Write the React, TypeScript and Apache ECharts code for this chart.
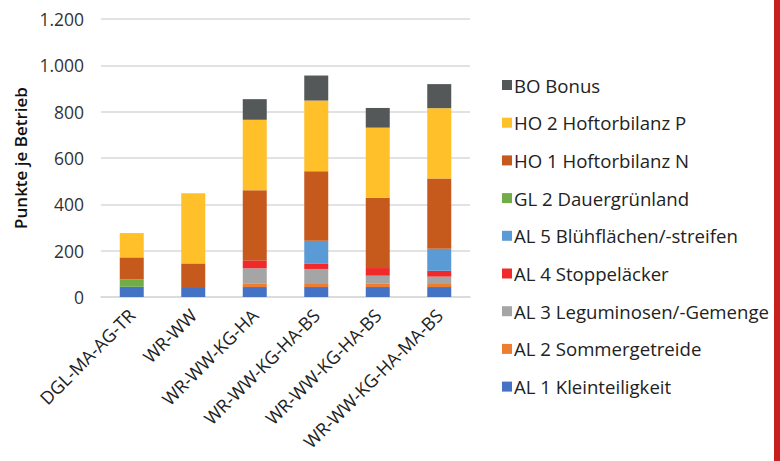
import React, { useEffect, useRef } from "react";
import * as echarts from "echarts";

const categories = [
  "DGL-MA-AG-TR",
  "WR-WW",
  "WR-WW-KG-HA",
  "WR-WW-KG-HA-BS",
  "WR-WW-KG-HA-BS",
  "WR-WW-KG-HA-MA-BS",
];

const seriesNames = [
  "AL 1 Kleinteiligkeit",
  "AL 2 Sommergetreide",
  "AL 3 Leguminosen/-Gemenge",
  "AL 4 Stoppeläcker",
  "AL 5 Blühflächen/-streifen",
  "GL 2 Dauergrünland",
  "HO 1 Hoftorbilanz N",
  "HO 2 Hoftorbilanz P",
  "BO Bonus",
];

const al1 = [44, 43, 43, 43, 43, 43];
const al2 = [0, 0, 16, 13, 16, 13];
const al3 = [0, 0, 65, 65, 33, 32];
const al4 = [0, 0, 34, 24, 33, 25];
const al5 = [0, 0, 0, 98, 0, 95];
const gl2 = [32, 0, 0, 0, 0, 0];
const ho1 = [95, 102, 303, 300, 303, 304];
const ho2 = [105, 303, 304, 305, 303, 303];
const bo = [0, 0, 89, 108, 85, 104];

const seriesValues = [al1, al2, al3, al4, al5, gl2, ho1, ho2, bo];
const colors = [
  "#4472C4",
  "#ED7D31",
  "#A5A5A5",
  "#F02A2A",
  "#5B9BD5",
  "#70AD47",
  "#C55A1C",
  "#FFC02A",
  "#555859",
];

const yTicks = [0, 200, 400, 600, 800, 1000, 1200];
const FONT = "'Open Sans', Lato, sans-serif";

export default function App() {
  const ref = useRef<HTMLDivElement>(null);
  useEffect(() => {
    if (!ref.current) return;
    const chart = echarts.init(ref.current, undefined, { renderer: "svg" });
    chart.setOption({
      animation: false,
      backgroundColor: "#ffffff",
      textStyle: { fontFamily: FONT },
      grid: { left: 101, right: 310, top: 19, bottom: 164 },
      legend: {
        orient: "vertical",
        left: 497,
        top: 70.5,
        itemWidth: 10,
        itemHeight: 10,
        itemGap: 18.7,
        icon: "rect",
        data: seriesNames.slice().reverse(),
        textStyle: {
          fontFamily: FONT,
          fontSize: 18.6,
          color: "#222",
          padding: [0, 0, 0, -3],
        },
      },
      xAxis: {
        type: "category",
        data: categories,
        axisLine: { lineStyle: { color: "#D9D9D9", width: 1.5 } },
        axisTick: { show: false },
        axisLabel: {
          rotate: 45,
          interval: 0,
          fontSize: 18,
          color: "#222",
          fontFamily: FONT,
          margin: 15,
        },
      },
      yAxis: {
        type: "value",
        min: 0,
        max: yTicks[yTicks.length - 1],
        interval: 200,
        name: "Punkte je Betrieb",
        nameLocation: "middle",
        nameGap: 72,
        nameTextStyle: { fontSize: 17, color: "#111", fontFamily: FONT, fontWeight: 600 },
        axisLine: { show: false },
        axisTick: { show: false },
        axisLabel: {
          fontSize: 17.5,
          color: "#333",
          margin: 17,
          fontFamily: FONT,
          formatter: (v: number) => v.toLocaleString("de-DE"),
        },
        splitLine: { lineStyle: { color: "#D9D9D9", width: 1.5 } },
      },
      series: seriesNames.map((name, i) => ({
        name,
        type: "bar",
        stack: "total",
        barWidth: 24,
        data: seriesValues[i],
        itemStyle: { color: colors[i] },
      })),
      graphic: [
        {
          type: "rect",
          right: 0,
          top: 0,
          shape: { width: 6, height: 461 },
          style: { fill: "#C8201F" },
          z: 100,
        },
      ],
    });
    return () => chart.dispose();
  }, []);
  return (
    <div
      ref={ref}
      style={{ position: "fixed", left: 0, top: 0, width: 780, height: 461 }}
    />
  );
}
